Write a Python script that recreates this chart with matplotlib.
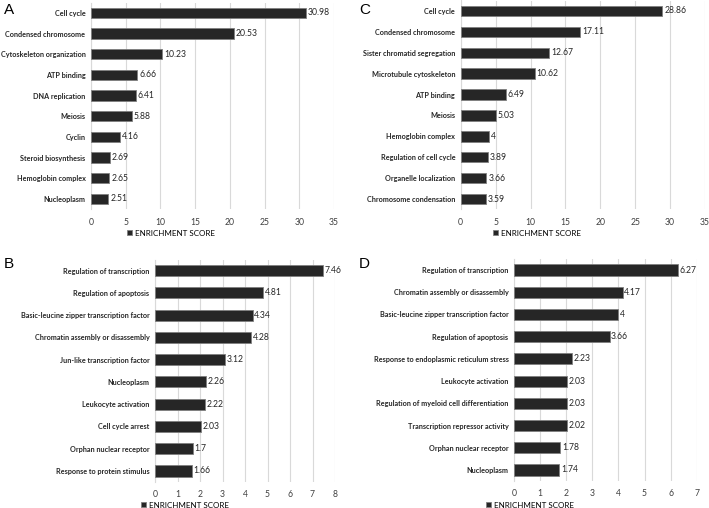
import numpy as np
import matplotlib
matplotlib.use("Agg")
import matplotlib.pyplot as plt

# panel A
a_terms = ["Cell cycle", "Condensed chromosome", "Cytoskeleton organization", "ATP binding",
           "DNA replication", "Meiosis", "Cyclin", "Steroid biosynthesis",
           "Hemoglobin complex", "Nucleoplasm"]
a_scores = [30.98, 20.53, 10.23, 6.66, 6.41, 5.88, 4.16, 2.69, 2.65, 2.51]
a_labels = ["30.98", "20.53", "10.23", "6.66", "6.41", "5.88", "4.16", "2.69", "2.65", "2.51"]

# panel B
b_terms = ["Regulation of transcription", "Regulation of apoptosis",
           "Basic-leucine zipper transcription factor", "Chromatin assembly or disassembly",
           "Jun-like transcription factor", "Nucleoplasm", "Leukocyte activation",
           "Cell cycle arrest", "Orphan nuclear receptor", "Response to protein stimulus"]
b_scores = [7.46, 4.81, 4.34, 4.28, 3.12, 2.26, 2.22, 2.03, 1.7, 1.66]
b_labels = ["7.46", "4.81", "4.34", "4.28", "3.12", "2.26", "2.22", "2.03", "1.7", "1.66"]

# panel C
c_terms = ["Cell cycle", "Condensed chromosome", "Sister chromatid segregation",
           "Microtubule cytoskeleton", "ATP binding", "Meiosis", "Hemoglobin complex",
           "Regulation of cell cycle", "Organelle localization", "Chromosome condensation"]
c_scores = [28.86, 17.11, 12.67, 10.62, 6.49, 5.03, 4, 3.89, 3.66, 3.59]
c_labels = ["28.86", "17.11", "12.67", "10.62", "6.49", "5.03", "4", "3.89", "3.66", "3.59"]

# panel D
d_terms = ["Regulation of transcription", "Chromatin assembly or disassembly",
           "Basic-leucine zipper transcription factor", "Regulation of apoptosis",
           "Response to endoplasmic reticulum stress", "Leukocyte activation",
           "Regulation of myeloid cell differentiation", "Transcription repressor activity",
           "Orphan nuclear receptor", "Nucleoplasm"]
d_scores = [6.27, 4.17, 4, 3.66, 2.23, 2.03, 2.03, 2.02, 1.78, 1.74]
d_labels = ["6.27", "4.17", "4", "3.66", "2.23", "2.03", "2.03", "2.02", "1.78", "1.74"]

plt.rcParams['font.family'] = ['Lato', 'DejaVu Sans']

W, H = 709, 508
fig = plt.figure(figsize=(W / 100, H / 100), dpi=100)


def panel(rect, terms, scores, labels, xmax, step, letter, letter_xy, legend_xy):
    ax = fig.add_axes(rect)
    y = np.arange(len(terms))
    bars = ax.barh(y, scores, height=0.5, color='#262626', edgecolor='#7f7f7f',
                   linewidth=0.6, zorder=3, label='ENRICHMENT SCORE')
    ax.set_ylim(len(terms) - 0.5, -0.5)
    ax.set_xlim(0, xmax)
    ax.set_xticks(np.arange(0, xmax + 0.01, step))
    ax.set_xticklabels([str(int(t)) for t in np.arange(0, xmax + 0.01, step)])
    ax.set_yticks(y)
    ax.set_yticklabels(terms, fontsize=5.2, fontweight='bold', color='#262626')
    ax.tick_params(axis='both', length=0, pad=4)
    ax.tick_params(axis='x', labelsize=6.2, labelcolor='#404040', pad=6)
    ax.grid(axis='x', color='#d9d9d9', linewidth=0.8, zorder=0)
    for s in ['top', 'right', 'bottom']:
        ax.spines[s].set_visible(False)
    ax.spines['left'].set_color('#d9d9d9')
    ax.spines['left'].set_linewidth(0.8)
    for b, lab in zip(bars, labels):
        ax.text(b.get_width() + xmax * 0.008, b.get_y() + b.get_height() / 2, lab,
                va='center', ha='left', fontsize=6.2, color='#262626')
    fig.text(letter_xy[0] / W, 1 - letter_xy[1] / H, letter, fontsize=11,
             ha='left', va='center', family='Liberation Sans')
    ax.legend(loc='center', bbox_to_anchor=(legend_xy[0] / W, 1 - legend_xy[1] / H),
              bbox_transform=fig.transFigure, frameon=False, fontsize=5.8,
              handlelength=0.6, handleheight=0.6, handletextpad=0.4)
    return ax


panel([91 / W, 1 - 209.3 / H, 243 / W, 206.7 / H], a_terms, a_scores, a_labels,
      35, 5, 'A', (4, 10), (171, 233))
panel([460.7 / W, 1 - 209.5 / H, 244.3 / W, 209 / H], c_terms, c_scores, c_labels,
      35, 5, 'C', (359, 10), (537, 233))
panel([155 / W, 1 - 482.1 / H, 180 / W, 222.6 / H], b_terms, b_scores, b_labels,
      8, 1, 'B', (4, 264), (185, 505))
panel([514 / W, 1 - 481.1 / H, 182.7 / W, 222.2 / H], d_terms, d_scores, d_labels,
      7, 1, 'D', (359, 264), (530, 505))

fig.savefig('out.png', dpi=100, facecolor='white')
